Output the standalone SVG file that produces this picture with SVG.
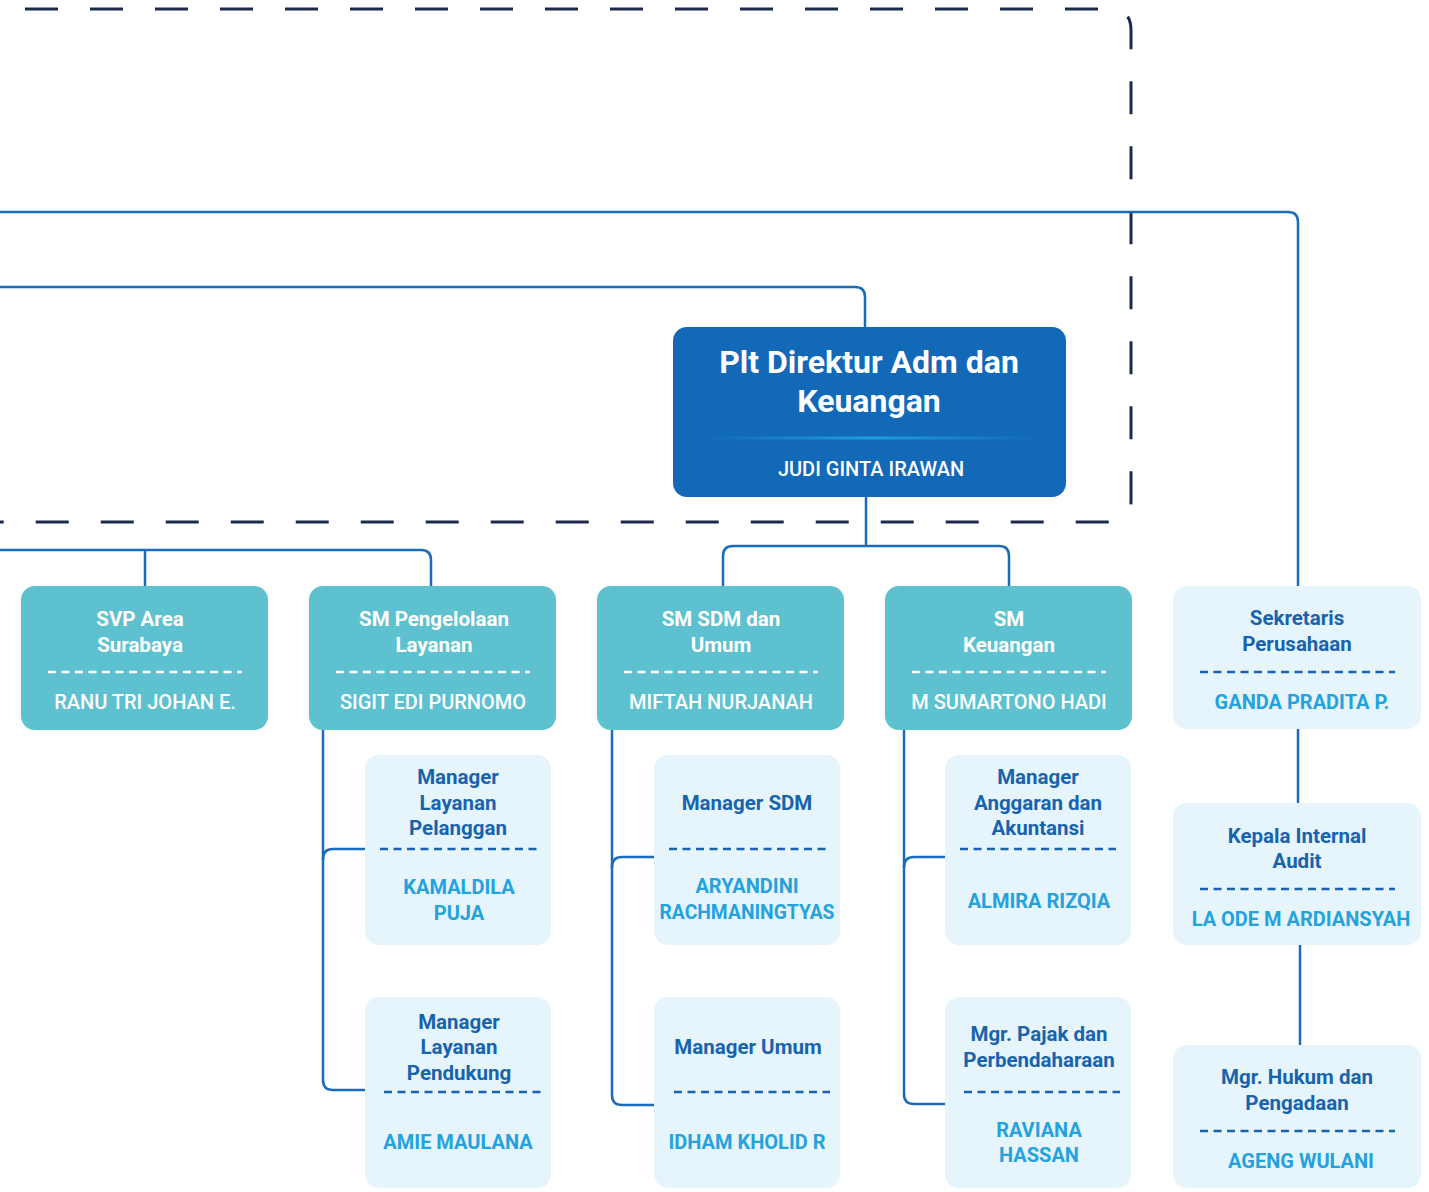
<svg xmlns="http://www.w3.org/2000/svg" width="1429" height="1192" viewBox="0 0 1429 1192">
<style>
text{font-family:Roboto,"Liberation Sans",sans-serif;text-anchor:middle}
.conn{fill:none;stroke:#1a6cb9;stroke-width:2.5}
.frame{fill:none;stroke:#1c2a4d;stroke-width:3;stroke-dasharray:33 32}
.teal{fill:#5ec1d0}
.light{fill:#e6f4fc}
.tw{fill:#ffffff;font-size:20.5px;font-weight:700}
.nw{fill:#ffffff;font-size:20px;font-weight:500}
.td{fill:#1763ad;font-size:20.5px;font-weight:700}
.nd{fill:#24a2dd;font-size:20px;font-weight:700}
.dw{stroke:#ffffff;stroke-width:2.5;stroke-dasharray:8 5.5}
.dd{stroke:#1763ad;stroke-width:2.5;stroke-dasharray:8 5.5}
</style>
<defs>
<linearGradient id="g" gradientUnits="userSpaceOnUse" x1="703" y1="0" x2="1040" y2="0">
<stop offset="0" stop-color="#1169b8"/>
<stop offset="0.5" stop-color="#1f9de0"/>
<stop offset="1" stop-color="#1169b8"/>
</linearGradient>
</defs>
<rect width="1429" height="1192" fill="#ffffff"/>
<path class="frame" d="M -40 9 H 1110 Q 1131 9 1131 30 V 501 Q 1131 522 1110 522 H -40"/>
<g id="connectors">
<path class="conn" d="M 0 287 H 855 Q 865 287 865 297 V 327"/>
<path class="conn" d="M 0 212 H 1288 Q 1298 212 1298 222 V 586"/>
<path class="conn" d="M 866 497 V 546"/>
<path class="conn" d="M 723 586 V 556 Q 723 546 733 546 H 999 Q 1009 546 1009 556 V 586"/>
<path class="conn" d="M 0 550 H 421 Q 431 550 431 560 V 586"/>
<path class="conn" d="M 145 550 V 586"/>
<path class="conn" d="M 1298 729 V 803"/>
<path class="conn" d="M 1300 945 V 1045"/>
<path class="conn" d="M 323 730 V 860"/>
<path class="conn" d="M 365 849 H 333 Q 323 849 323 859 V 1080 Q 323 1090 333 1090 H 365"/>
<path class="conn" d="M 612 730 V 868"/>
<path class="conn" d="M 654 857 H 622 Q 612 857 612 867 V 1095 Q 612 1105 622 1105 H 654"/>
<path class="conn" d="M 904 730 V 868"/>
<path class="conn" d="M 945 857 H 914 Q 904 857 904 867 V 1094 Q 904 1104 914 1104 H 945"/>
</g>
<g id="director">
<rect x="673" y="327" width="393" height="170" rx="14" fill="#1169b8"/>
<text x="869" y="373" fill="#ffffff" font-size="32" font-weight="700">Plt Direktur Adm dan</text>
<text x="869" y="412" fill="#ffffff" font-size="32" font-weight="700">Keuangan</text>
<rect x="703" y="436.5" width="337" height="3" fill="url(#g)"/>
<text x="871" y="476" fill="#ffffff" font-size="20" font-weight="500">JUDI GINTA IRAWAN</text>
</g>
<g id="svp-surabaya">
<rect class="teal" x="21" y="586" width="247" height="144" rx="14"/>
<text class="tw" x="140" y="626">SVP Area</text>
<text class="tw" x="140" y="652">Surabaya</text>
<line class="dw" x1="48" y1="672" x2="242" y2="672"/>
<text class="nw" x="145" y="709">RANU TRI JOHAN E.</text>
</g>
<g id="sm-pengelolaan">
<rect class="teal" x="309" y="586" width="247" height="144" rx="14"/>
<text class="tw" x="434" y="626">SM Pengelolaan</text>
<text class="tw" x="434" y="652">Layanan</text>
<line class="dw" x1="336" y1="672" x2="530" y2="672"/>
<text class="nw" x="433" y="709">SIGIT EDI PURNOMO</text>
</g>
<g id="sm-sdm">
<rect class="teal" x="597" y="586" width="247" height="144" rx="14"/>
<text class="tw" x="721" y="626">SM SDM dan</text>
<text class="tw" x="721" y="652">Umum</text>
<line class="dw" x1="624" y1="672" x2="818" y2="672"/>
<text class="nw" x="721" y="709">MIFTAH NURJANAH</text>
</g>
<g id="sm-keuangan">
<rect class="teal" x="885" y="586" width="247" height="144" rx="14"/>
<text class="tw" x="1009" y="626">SM</text>
<text class="tw" x="1009" y="652">Keuangan</text>
<line class="dw" x1="912" y1="672" x2="1106" y2="672"/>
<text class="nw" x="1009" y="709">M SUMARTONO HADI</text>
</g>
<g id="sekretaris">
<rect class="light" x="1173" y="586" width="248" height="143" rx="14"/>
<text class="td" x="1297" y="625">Sekretaris</text>
<text class="td" x="1297" y="651">Perusahaan</text>
<line class="dd" x1="1200" y1="672" x2="1395" y2="672"/>
<text class="nd" x="1302" y="709">GANDA PRADITA P.</text>
</g>
<g id="internal-audit">
<rect class="light" x="1173" y="803" width="248" height="142" rx="14"/>
<text class="td" x="1297" y="843">Kepala Internal</text>
<text class="td" x="1297" y="868">Audit</text>
<line class="dd" x1="1200" y1="889" x2="1395" y2="889"/>
<text class="nd" x="1301" y="926">LA ODE M ARDIANSYAH</text>
</g>
<g id="hukum">
<rect class="light" x="1173" y="1045" width="248" height="143" rx="14"/>
<text class="td" x="1297" y="1084">Mgr. Hukum dan</text>
<text class="td" x="1297" y="1110">Pengadaan</text>
<line class="dd" x1="1200" y1="1131" x2="1395" y2="1131"/>
<text class="nd" x="1301" y="1168">AGENG WULANI</text>
</g>
<g id="layanan-pelanggan">
<rect class="light" x="365" y="755" width="186" height="190" rx="14"/>
<text class="td" x="458" y="784">Manager</text>
<text class="td" x="458" y="810">Layanan</text>
<text class="td" x="458" y="835">Pelanggan</text>
<line class="dd" x1="380" y1="849" x2="537" y2="849"/>
<text class="nd" x="459" y="894">KAMALDILA</text>
<text class="nd" x="459" y="920">PUJA</text>
</g>
<g id="layanan-pendukung">
<rect class="light" x="365" y="997" width="186" height="191" rx="14"/>
<text class="td" x="459" y="1029">Manager</text>
<text class="td" x="459" y="1054">Layanan</text>
<text class="td" x="459" y="1080">Pendukung</text>
<line class="dd" x1="384" y1="1092" x2="541" y2="1092"/>
<text class="nd" x="458" y="1149">AMIE MAULANA</text>
</g>
<g id="manager-sdm">
<rect class="light" x="654" y="755" width="186" height="190" rx="14"/>
<text class="td" x="747" y="810">Manager SDM</text>
<line class="dd" x1="669" y1="849" x2="826" y2="849"/>
<text class="nd" x="747" y="893">ARYANDINI</text>
<text class="nd" x="747" y="919" textLength="175" lengthAdjust="spacingAndGlyphs">RACHMANINGTYAS</text>
</g>
<g id="manager-umum">
<rect class="light" x="654" y="997" width="186" height="191" rx="14"/>
<text class="td" x="748" y="1054">Manager Umum</text>
<line class="dd" x1="674" y1="1092" x2="830" y2="1092"/>
<text class="nd" x="747" y="1149">IDHAM KHOLID R</text>
</g>
<g id="anggaran">
<rect class="light" x="945" y="755" width="186" height="190" rx="14"/>
<text class="td" x="1038" y="784">Manager</text>
<text class="td" x="1038" y="810">Anggaran dan</text>
<text class="td" x="1038" y="835">Akuntansi</text>
<line class="dd" x1="960" y1="849" x2="1116" y2="849"/>
<text class="nd" x="1039" y="908">ALMIRA RIZQIA</text>
</g>
<g id="pajak">
<rect class="light" x="945" y="997" width="186" height="191" rx="14"/>
<text class="td" x="1039" y="1041">Mgr. Pajak dan</text>
<text class="td" x="1039" y="1067">Perbendaharaan</text>
<line class="dd" x1="964" y1="1092" x2="1120" y2="1092"/>
<text class="nd" x="1039" y="1137">RAVIANA</text>
<text class="nd" x="1039" y="1162">HASSAN</text>
</g>
</svg>
